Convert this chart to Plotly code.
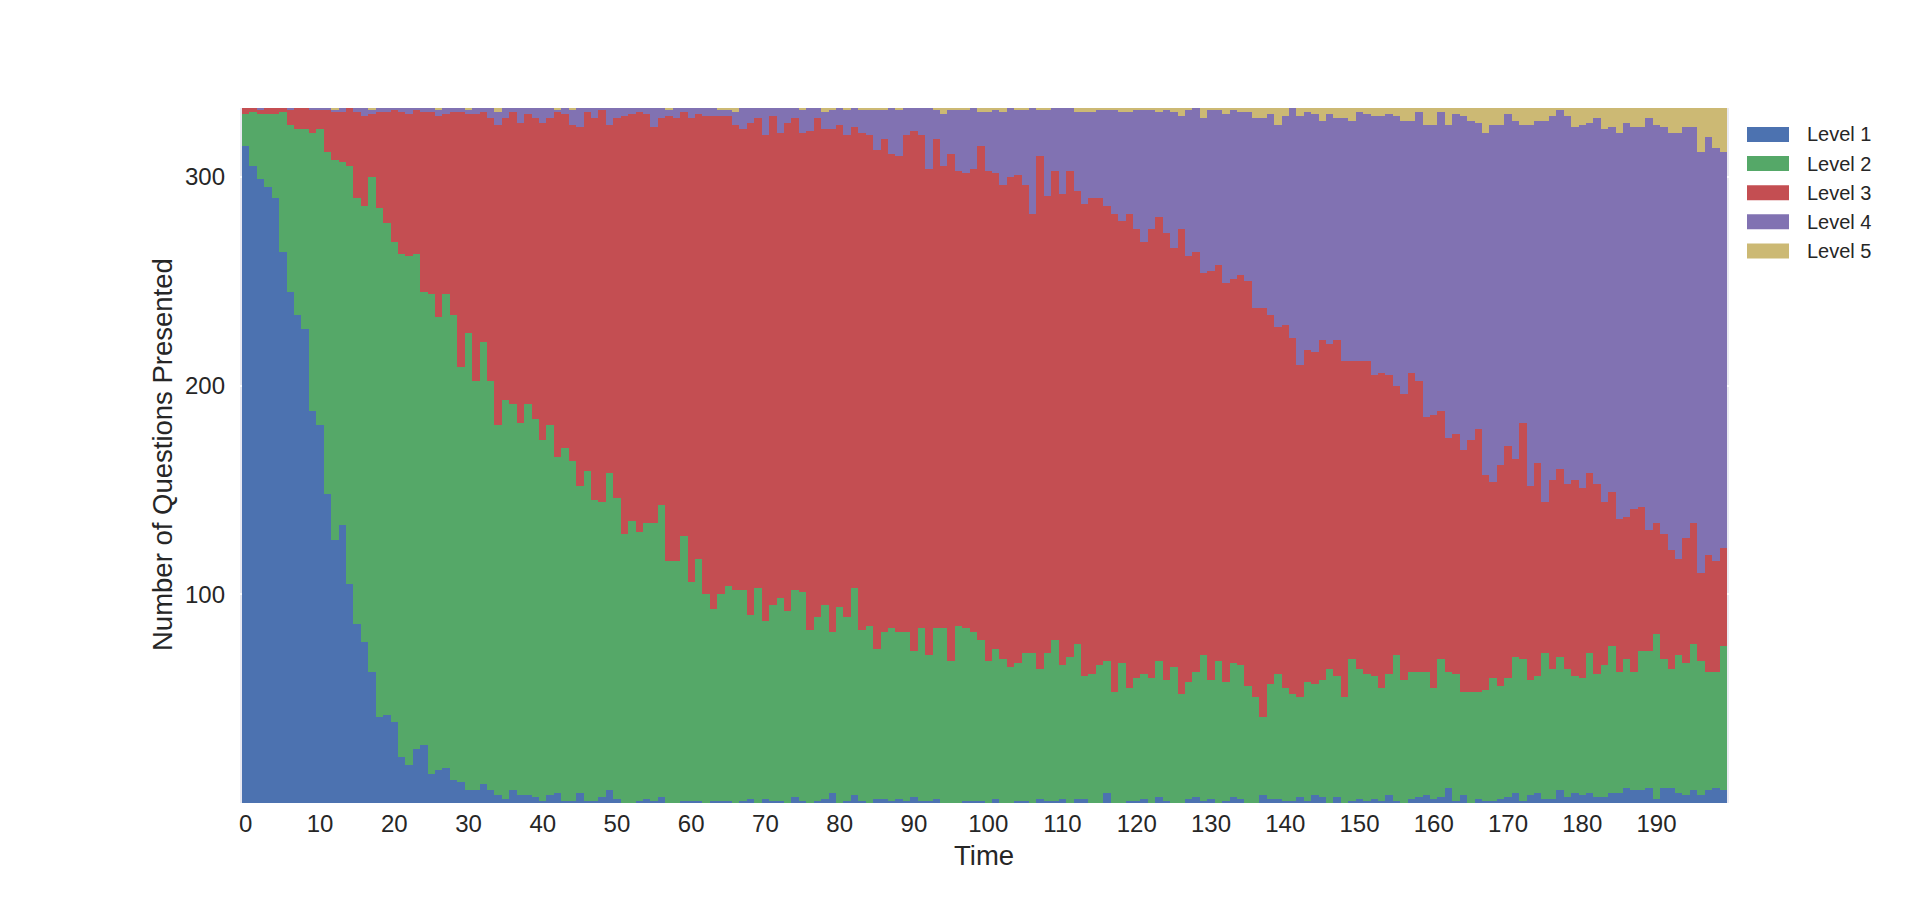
import plotly.graph_objects as go

time_steps = list(range(200))
level_names = ["Level 1", "Level 2", "Level 3", "Level 4", "Level 5"]
level_colors = ["#4C72B0", "#55A868", "#C44E52", "#8172B2", "#CCB974"]

level1 = [
    315, 305, 299, 295, 290, 264, 245, 234, 227, 188,
    181, 148, 126, 133, 105, 86, 77, 63, 41, 42,
    39, 22, 18, 26, 28, 14, 16, 17, 11, 10,
    6, 6, 9, 6, 4, 2, 6, 4, 4, 3,
    1, 4, 5, 1, 1, 5, 1, 1, 3, 6,
    2, 0, 0, 1, 2, 1, 3, 0, 0, 1,
    1, 1, 0, 1, 1, 1, 0, 1, 2, 0,
    2, 1, 1, 0, 3, 1, 0, 1, 2, 5,
    0, 1, 4, 1, 0, 2, 2, 1, 2, 1,
    3, 1, 1, 2, 0, 0, 0, 1, 1, 1,
    0, 2, 0, 0, 1, 1, 0, 2, 1, 1,
    2, 0, 2, 2, 0, 0, 5, 0, 0, 1,
    1, 2, 0, 3, 1, 0, 0, 2, 3, 1,
    2, 0, 1, 3, 2, 0, 0, 4, 2, 2,
    1, 1, 3, 1, 4, 3, 0, 3, 0, 1,
    2, 1, 2, 1, 4, 1, 0, 2, 3, 4,
    2, 3, 7, 1, 4, 0, 2, 1, 1, 2,
    3, 5, 1, 4, 5, 2, 2, 6, 3, 5,
    4, 5, 3, 3, 5, 5, 7, 6, 6, 7,
    2, 7, 7, 5, 4, 6, 4, 6, 7, 6,
]

level2 = [
    15, 26, 31, 35, 40, 67, 80, 89, 96, 133,
    142, 164, 182, 174, 200, 204, 209, 237, 244, 236,
    230, 241, 244, 237, 217, 230, 217, 227, 223, 199,
    219, 196, 212, 196, 177, 191, 185, 178, 187, 181,
    173, 177, 161, 169, 163, 147, 158, 144, 141, 152,
    144, 129, 135, 129, 132, 133, 140, 116, 116, 127,
    105, 116, 100, 92, 99, 103, 102, 101, 88, 103,
    85, 94, 97, 92, 99, 100, 83, 88, 93, 77,
    94, 88, 99, 82, 85, 72, 80, 83, 80, 81,
    70, 83, 70, 82, 84, 68, 85, 83, 81, 77,
    68, 72, 69, 65, 66, 71, 72, 62, 71, 77,
    64, 70, 74, 59, 62, 66, 63, 53, 67, 54,
    59, 60, 60, 65, 58, 65, 52, 56, 60, 70,
    57, 68, 57, 64, 64, 56, 51, 37, 55, 60,
    54, 51, 48, 57, 53, 56, 64, 58, 51, 68,
    62, 61, 59, 54, 58, 70, 59, 61, 60, 59,
    53, 66, 56, 61, 49, 53, 51, 53, 59, 54,
    57, 65, 68, 55, 56, 70, 62, 64, 61, 56,
    56, 67, 59, 63, 70, 58, 62, 57, 67, 66,
    79, 62, 57, 66, 63, 70, 64, 57, 56, 69,
]

level3 = [
    3, 2, 2, 3, 3, 2, 7, 10, 10, 11,
    9, 20, 23, 24, 28, 41, 43, 30, 46, 53,
    63, 68, 68, 69, 86, 87, 96, 86, 97, 122,
    105, 128, 110, 126, 144, 135, 140, 144, 139, 144,
    152, 147, 165, 160, 161, 172, 172, 183, 188, 167,
    182, 200, 195, 201, 196, 190, 185, 213, 212, 203,
    222, 213, 229, 236, 229, 225, 223, 221, 236, 225,
    233, 234, 223, 234, 226, 220, 239, 239, 228, 241,
    231, 231, 221, 238, 235, 239, 236, 227, 228, 238,
    249, 236, 233, 234, 221, 243, 218, 218, 222, 237,
    235, 228, 227, 235, 234, 224, 210, 246, 219, 225,
    226, 233, 217, 226, 228, 224, 218, 229, 212, 227,
    215, 207, 215, 213, 214, 201, 223, 204, 201, 183,
    196, 190, 191, 184, 187, 194, 186, 196, 177, 166,
    174, 171, 159, 159, 159, 163, 156, 161, 161, 143,
    148, 150, 144, 151, 143, 129, 137, 143, 139, 122,
    131, 119, 112, 115, 116, 121, 126, 103, 94, 106,
    111, 95, 113, 93, 102, 72, 91, 90, 89, 94,
    91, 86, 91, 78, 74, 73, 68, 78, 69, 58,
    53, 60, 57, 46, 60, 58, 42, 56, 53, 47,
]

level4 = [
    0, 0, 1, 0, 0, 0, 1, 0, 0, 1,
    1, 1, 1, 2, 0, 2, 4, 2, 2, 2,
    1, 2, 3, 1, 2, 2, 3, 3, 2, 2,
    2, 3, 2, 5, 6, 5, 2, 7, 3, 5,
    7, 5, 1, 3, 7, 9, 2, 5, 1, 8,
    5, 4, 3, 2, 3, 9, 5, 3, 5, 2,
    5, 3, 4, 4, 3, 3, 6, 10, 7, 5,
    13, 4, 12, 7, 5, 11, 11, 5, 8, 9,
    8, 12, 9, 11, 12, 19, 14, 22, 22, 13,
    11, 13, 29, 14, 25, 21, 29, 30, 29, 16,
    28, 30, 35, 33, 31, 36, 51, 22, 41, 30,
    41, 30, 38, 44, 41, 42, 46, 50, 52, 49,
    57, 63, 57, 50, 59, 65, 54, 70, 69, 74,
    77, 74, 81, 81, 78, 81, 91, 91, 96, 97,
    100, 110, 119, 114, 114, 105, 110, 106, 116, 115,
    119, 118, 124, 123, 125, 129, 131, 121, 129, 140,
    139, 143, 150, 153, 160, 153, 147, 164, 171, 163,
    159, 162, 143, 173, 164, 183, 174, 172, 176, 169,
    174, 168, 175, 179, 175, 185, 189, 183, 182, 197,
    191, 195, 200, 204, 197, 190, 202, 200, 198, 190,
]

level5 = [
    0, 0, 0, 0, 0, 0, 0, 0, 0, 0,
    0, 0, 1, 0, 0, 0, 0, 1, 0, 0,
    0, 0, 0, 0, 0, 0, 1, 0, 0, 0,
    1, 0, 0, 0, 2, 0, 0, 0, 0, 0,
    0, 0, 1, 0, 1, 0, 0, 0, 0, 0,
    0, 0, 0, 0, 0, 0, 0, 1, 0, 0,
    0, 0, 0, 0, 1, 1, 2, 0, 0, 0,
    0, 0, 0, 0, 0, 1, 0, 0, 2, 1,
    0, 1, 0, 1, 1, 1, 1, 0, 1, 0,
    0, 0, 0, 1, 3, 1, 1, 1, 0, 2,
    2, 1, 2, 0, 1, 1, 0, 1, 1, 0,
    0, 0, 2, 2, 2, 1, 1, 1, 2, 2,
    1, 1, 1, 2, 1, 2, 4, 1, 0, 5,
    1, 1, 3, 1, 2, 2, 5, 5, 3, 8,
    4, 0, 4, 2, 3, 6, 3, 5, 5, 6,
    2, 3, 4, 4, 3, 4, 6, 6, 2, 8,
    8, 2, 8, 3, 4, 6, 7, 12, 8, 8,
    3, 6, 8, 8, 6, 6, 4, 1, 4, 9,
    8, 7, 5, 10, 9, 12, 7, 9, 9, 5,
    8, 9, 12, 12, 9, 9, 21, 14, 19, 21,
]

x_tick_values = list(range(0, 200, 10))
y_tick_values = [100, 200, 300]
x_title = "Time"
y_title = "Number of Questions Presented"

series = [level1, level2, level3, level4, level5]

FONT = "Liberation Sans, Arial, sans-serif"
TEXT_COLOR = "#262626"

fig = go.Figure()
for name, color, values in zip(level_names, level_colors, series):
    fig.add_trace(go.Bar(
        x=time_steps, y=values, name=name,
        marker=dict(color=color, line=dict(width=0)),
        width=1.0, showlegend=False,
    ))

# The page body has an 8px margin, so the figure is sized to fit the window.
OFF = 8
W, H = 1920 - OFF, 902 - OFF
# plot area in page pixels: left 240, right 1729, top 108, bottom 803
L = 240 - OFF
T = 108 - OFF
R = W - (1729 - OFF)
B = H - (803 - OFF)
pw, ph = W - L - R, H - T - B

def px_x(x):
    # page pixel -> paper coordinate
    return (x - OFF - L) / pw

def px_y(y):
    return (H - B - (y - OFF)) / ph

annotations = [
    dict(text=x_title, x=px_x(984), y=px_y(855), xref="paper", yref="paper",
         showarrow=False, xanchor="center", yanchor="middle",
         font=dict(size=27.5, color=TEXT_COLOR, family=FONT)),
    dict(text=y_title, x=px_x(162), y=px_y(455), xref="paper", yref="paper",
         showarrow=False, xanchor="center", yanchor="middle", textangle=-90,
         font=dict(size=27.5, color=TEXT_COLOR, family=FONT)),
]
shapes = []
for k, (name, color) in enumerate(zip(level_names, level_colors)):
    cy = 134.5 + 29.1 * k
    shapes.append(dict(type="rect", xref="paper", yref="paper",
                       x0=px_x(1747), x1=px_x(1789),
                       y0=px_y(cy + 7.5), y1=px_y(cy - 7.5),
                       fillcolor=color, line=dict(width=0)))
    annotations.append(dict(text=name, x=px_x(1805), y=px_y(cy),
                            xref="paper", yref="paper", showarrow=False,
                            xanchor="left", yanchor="middle",
                            font=dict(size=20, color=TEXT_COLOR, family=FONT)))

fig.update_layout(
    width=W, height=H,
    barmode="stack", bargap=0,
    paper_bgcolor="white", plot_bgcolor="#EAEAF2",
    margin=dict(l=L, r=R, t=T, b=B, autoexpand=False),
    font=dict(family=FONT, color=TEXT_COLOR),
    annotations=annotations, shapes=shapes,
    showlegend=False,
)
fig.update_xaxes(
    range=[-0.77, 199.77], tickmode="array", tickvals=x_tick_values,
    showgrid=False, zeroline=False, showline=False, ticks="",
    tickfont=dict(size=24, color=TEXT_COLOR, family=FONT),
    ticklabelstandoff=4,
)
fig.update_yaxes(
    range=[0, 333], tickmode="array", tickvals=y_tick_values,
    showgrid=True, gridcolor="white", gridwidth=1.5,
    zeroline=False, showline=False, ticks="",
    tickfont=dict(size=24, color=TEXT_COLOR, family=FONT),
    ticklabelstandoff=14,
)

fig.write_html("out.html")
